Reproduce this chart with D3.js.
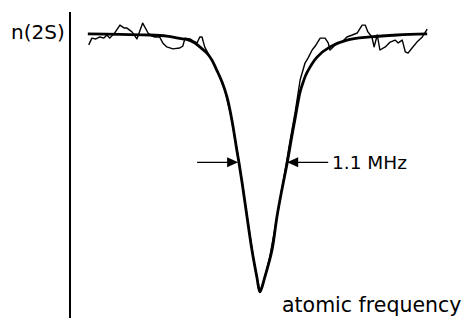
<!DOCTYPE html>
<html>
<head>
<meta charset="utf-8">
<script src="https://cdn.jsdelivr.net/npm/d3@7"></script>
<style>
  body { margin: 0; background: #fff; }
  text { font-family: "DejaVu Sans", sans-serif; fill: #000; }
</style>
</head>
<body>
<div id="chart"></div>
<script>
// detuning from line centre (MHz) and normalised n(2S) signal
const fitFreq = [-3.86, -3.14, -2.47, -2.09, -1.80, -1.64, -1.46, -1.35, -1.19, -1.08, -0.97, -0.85, -0.74, -0.63, -0.52, -0.47, -0.40, -0.29, -0.18, -0.07, 0.00,
  0.11, 0.27, 0.38, 0.49, 0.61, 0.70, 0.79, 0.90, 0.97, 1.05, 1.28, 1.57, 1.95, 2.47, 3.08, 3.75];
const fitSignal = [1.004, 1.002, 1.000, 0.996, 0.988, 0.984, 0.972, 0.958, 0.936, 0.912, 0.876, 0.834, 0.781, 0.700, 0.594, 0.548, 0.477, 0.357, 0.240, 0.145, 0.092,
  0.145, 0.240, 0.357, 0.452, 0.548, 0.629, 0.707, 0.799, 0.834, 0.866, 0.922, 0.958, 0.982, 0.993, 1.000, 1.004];

const dataFreq = [-3.84, -3.77, -3.68, -3.59, -3.50, -3.43, -3.37, -3.26, -3.14, -3.05, -2.99, -2.87, -2.76, -2.63, -2.51, -2.42, -2.36, -2.25, -2.18, -2.09,
  -1.95, -1.80, -1.73, -1.68, -1.57, -1.50, -1.41, -1.35, -1.30, -1.24, -1.12, -1.01, -0.90, -0.79, -0.67, -0.56, -0.47, -0.38, -0.27, -0.16, -0.07, 0.00,
  0.09, 0.22, 0.36, 0.47, 0.58, 0.67, 0.79, 0.90, 1.01, 1.08, 1.17, 1.24, 1.35, 1.46, 1.53, 1.57, 1.64, 1.73, 1.84, 1.95, 2.07, 2.18, 2.29, 2.36, 2.42,
  2.51, 2.56, 2.63, 2.69, 2.81, 2.92, 3.03, 3.10, 3.19, 3.26, 3.32, 3.41, 3.52, 3.64, 3.75];
const dataSignal = [0.965, 0.989, 0.986, 0.993, 0.989, 1.000, 0.989, 1.007, 1.035, 1.025, 1.025, 1.011, 0.986, 1.042, 1.007, 0.996, 0.993, 0.993, 0.972, 0.958,
  0.951, 0.954, 0.961, 0.989, 0.986, 0.979, 0.972, 0.993, 0.993, 0.958, 0.922, 0.890, 0.852, 0.806, 0.728, 0.636, 0.551, 0.459, 0.339, 0.226, 0.141, 0.095,
  0.134, 0.216, 0.339, 0.438, 0.537, 0.622, 0.728, 0.841, 0.901, 0.919, 0.947, 0.961, 0.989, 0.989, 0.972, 0.947, 0.958, 0.972, 0.975, 0.993, 1.000, 1.007,
  1.035, 1.035, 1.011, 0.993, 0.958, 1.000, 0.947, 0.958, 0.975, 0.982, 0.972, 0.982, 0.940, 0.936, 0.954, 0.975, 0.993, 1.021];

const fwhmEdges = [-0.49, 0.61];   // half maximum crossing points
const fwhmLevel = 0.55;
const fwhmLabel = "1.1 MHz";
const yLabel = "n(2S)";
const xLabel = "atomic frequency";

const width = 466, height = 318;

const svg = d3.select("#chart")
  .append("svg")
  .attr("width", width)
  .attr("height", height);

const x = d3.scaleLinear()
  .domain([-4.26, 4.62])
  .range([70, width]);

const y = d3.scaleLinear()
  .domain([0, 1])
  .range([height, 35]);

// vertical axis, no ticks
svg.append("line")
  .attr("x1", x(-4.26)).attr("x2", x(-4.26))
  .attr("y1", 12).attr("y2", height)
  .attr("stroke", "#000")
  .attr("stroke-width", 2);

svg.append("text")
  .attr("x", 11)
  .attr("y", 38.5)
  .attr("font-size", 20)
  .text(yLabel);

const fit = fitFreq.map((f, i) => [f, fitSignal[i]]);
const data = dataFreq.map((f, i) => [f, dataSignal[i]]);

// measured signal (thin, noisy)
svg.append("path")
  .datum(data)
  .attr("fill", "none")
  .attr("stroke", "#000")
  .attr("stroke-width", 1.4)
  .attr("stroke-linejoin", "round")
  .attr("d", d3.line()
    .x(d => x(d[0]))
    .y(d => y(d[1])));

// fitted line shape (thick)
svg.append("path")
  .datum(fit)
  .attr("fill", "none")
  .attr("stroke", "#000")
  .attr("stroke-width", 2.8)
  .attr("d", d3.line()
    .curve(d3.curveCatmullRom)
    .x(d => x(d[0]))
    .y(d => y(d[1])));

// FWHM arrows
const ay = y(fwhmLevel);
function arrow(tipX, dir) {
  const tail = tipX - dir * 41;
  svg.append("line")
    .attr("x1", tail).attr("x2", tipX - dir * 8)
    .attr("y1", ay).attr("y2", ay)
    .attr("stroke", "#000").attr("stroke-width", 1.4);
  svg.append("path")
    .attr("d", `M${tipX},${ay} L${tipX - dir * 11},${ay - 5} L${tipX - dir * 11},${ay + 5} Z`)
    .attr("fill", "#000");
}
arrow(x(fwhmEdges[0]), 1);
arrow(x(fwhmEdges[1]), -1);

svg.append("text")
  .attr("x", 332)
  .attr("y", ay + 6.5)
  .attr("font-size", 18.5)
  .text(fwhmLabel);

svg.append("text")
  .attr("x", 282)
  .attr("y", 312)
  .attr("font-size", 20.5)
  .text(xLabel);
</script>
</body>
</html>
